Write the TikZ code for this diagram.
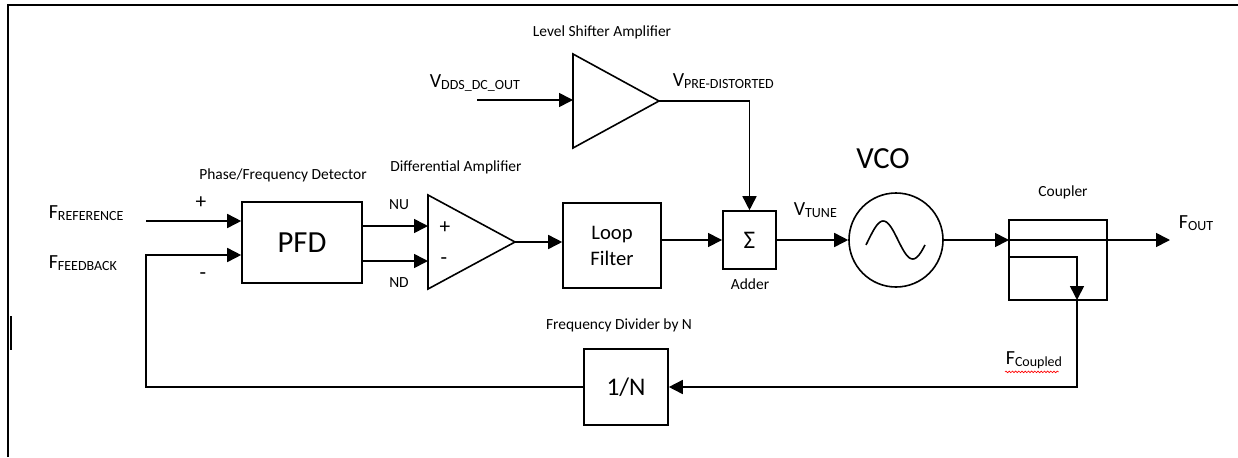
\documentclass[tikz,border=0pt]{standalone}
\usepackage{fontspec}
\setmainfont{Carlito}
\usetikzlibrary{arrows.meta, calc, decorations.pathmorphing}

% signal name with a small-caps style subscript
\newcommand{\sig}[2]{{\fontsize{15}{15}\selectfont #1}\raisebox{-1.3pt}{\fontsize{10.5}{10.5}\selectfont #2}}

\begin{document}
\begin{tikzpicture}[
  x=0.75pt, y=-0.75pt,
  line width=1.2pt,
  blk/.style  = {rectangle, draw, line width=1.2pt, inner sep=0pt, align=center},
  arr/.style  = {-{Triangle[length=10.5pt, width=10.5pt]}, line width=1.2pt},
  lbl/.style  = {font=\fontsize{11.6}{13}\selectfont, inner sep=0pt},
  sgn/.style  = {inner sep=0pt, anchor=west},
  big/.style  = {font=\fontsize{23}{23}\selectfont},
]
\useasboundingbox (0,0) rectangle (1238,457);

% ── Frame ─────────────────────────────────────────────────────────────────────
\draw[line width=1.5pt] (8,457) -- (8,4.5) -- (1238,4.5);
\draw[line width=1.5pt] (11,316) -- (11,350);

% ── Phase/Frequency detector ─────────────────────────────────────────────────
\node[blk, big, minimum width=90pt, minimum height=60.75pt] (pfd) at (302,242.5) {PFD};
\node[lbl] (pfdlbl) at (283,175) {Phase/Frequency Detector};
\coordinate (refin) at (146,221);
\coordinate (fbkin) at (146,255);
\node[sgn] (fref) at (48,213) {\sig{F}{REFERENCE}};
\node[sgn] (ffbk) at (48,263) {\sig{F}{FEEDBACK}};
\node[font=\fontsize{16}{16}\selectfont, inner sep=0pt] (plus) at (201,203) {+};
\node[font=\fontsize{16}{16}\selectfont, inner sep=0pt] (minus) at (203,276) {-};

% ── Differential amplifier ───────────────────────────────────────────────────
\draw (428,195) -- (515,242) -- (428,289) -- cycle;
\coordinate (dainp) at (428,226);
\coordinate (dainn) at (428,261);
\coordinate (daout) at (515,242);
\node[font=\fontsize{16}{16}\selectfont, inner sep=0pt] (daplus) at (445,228) {+};
\node[font=\fontsize{16}{16}\selectfont, inner sep=0pt] (daminus) at (444,261) {-};
\node[lbl] (nu) at (399,205) {NU};
\node[lbl] (nd) at (399,283) {ND};
\node[lbl] (dalbl) at (456,167) {Differential Amplifier};

% ── Loop filter ──────────────────────────────────────────────────────────────
\node[blk, font=\fontsize{15.5}{19.5}\selectfont, minimum width=73.5pt, minimum height=64pt] (lf) at (612,245.5) {Loop\\Filter};

% ── Level shifter + adder ────────────────────────────────────────────────────
\draw (573,54) -- (659,101) -- (573,148) -- cycle;
\coordinate (lsin) at (573,100);
\coordinate (lsout) at (659,101);
\coordinate (vdds) at (477,100);
\node[lbl] (lslbl) at (602,32) {Level Shifter Amplifier};
\node[sgn] (vddslbl) at (429,83) {\sig{V}{DDS\_DC\_OUT}};
\node[sgn] (vpre) at (672,81) {\sig{V}{PRE-DISTORTED}};

\node[blk, font=\fontsize{19}{19}\selectfont, minimum width=40pt, minimum height=43.5pt] (add) at (749.5,240) {Σ};
\node[lbl] (addlbl) at (750,284) {Adder};
\node[sgn] (vtune) at (793,210) {\sig{V}{TUNE}};

% ── VCO ──────────────────────────────────────────────────────────────────────
\node[circle, draw, line width=1.2pt, minimum size=70.5pt, inner sep=0pt] (vco) at (896,240) {};
\draw plot[domain=-15:345, samples=50, smooth] ({866+(\x+15)/6.1}, {240-19*sin(\x)});
\node[big, inner sep=0pt] (vcolbl) at (883,159) {VCO};

% ── Coupler ──────────────────────────────────────────────────────────────────
\node[blk, minimum width=73.5pt, minimum height=60pt] (cpl) at (1058,260) {};
\node[lbl] (cpllbl) at (1063,192) {Coupler};
\coordinate (cpin) at (1009,240);
\coordinate (cptap) at (1009,257);
\coordinate (cpbot) at (1077,300);
\coordinate (fout) at (1170,240);
\node[sgn] (foutlbl) at (1178,223) {\sig{F}{OUT}};
\node[sgn] (fcpl) at (1005,360) {\sig{F}{Coupled}};
\draw[red, line width=0.5pt, decorate, decoration={snake, amplitude=0.6pt, segment length=2.4pt}]
  ([yshift=-2pt]fcpl.south west) -- ([yshift=-2pt, xshift=-3pt]fcpl.south east);

% ── Divider ──────────────────────────────────────────────────────────────────
\node[blk, font=\fontsize{19}{19}\selectfont, minimum width=63pt, minimum height=57pt] (div) at (626,387) {1/N};
\node[lbl] (divlbl) at (619,325) {Frequency Divider by N};

% ── Arrows ───────────────────────────────────────────────────────────────────
\draw[arr] (refin) -- (pfd.west |- refin);
\draw[arr] (pfd.east |- dainp) -- (dainp);
\draw[arr] (pfd.east |- dainn) -- (dainn);
\draw[arr] (daout) -- (lf.west |- daout);
\draw[arr] (lf.east |- add) -- (add);
\draw[arr] (vdds) -- (lsin);
\draw[arr] (lsout) -| (add.north);
\draw[arr] (add) -- (vco);
\draw[arr] (vco) -- (cpin);
\draw[arr] (cpin) -- (fout);
\draw[arr] (cptap) -| (cpbot);
\draw[arr] (cpbot) |- (div.east);
\draw[arr] (div.west) -| (fbkin) -- (pfd.west |- fbkin);

\end{tikzpicture}
\end{document}
